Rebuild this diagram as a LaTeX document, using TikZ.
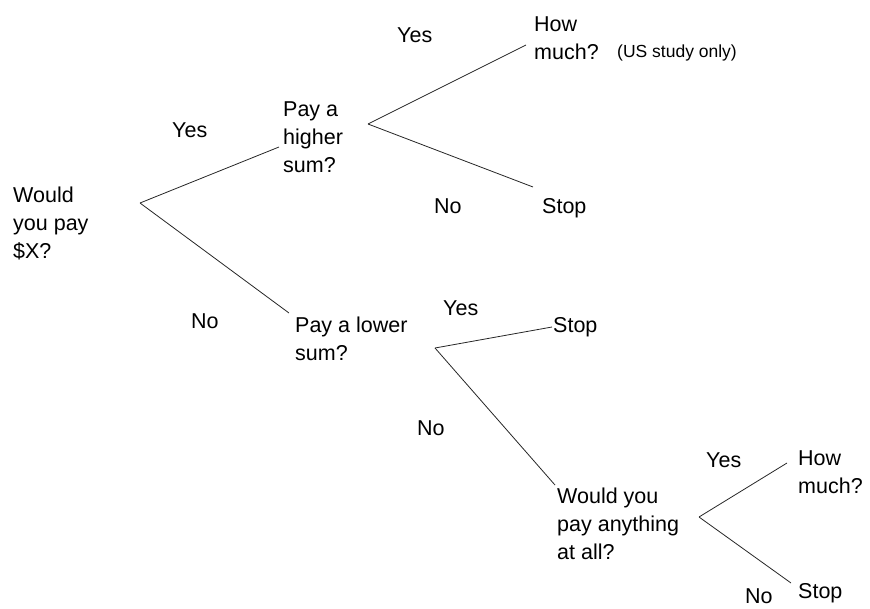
\documentclass[tikz,border=0pt]{standalone}
\usepackage{fontspec}
\setmainfont{Liberation Sans}
\usetikzlibrary{calc}
\tikzstyle{qstyle}=[anchor=base west,inner sep=0pt,align=left,font=\fontsize{21.5}{28}\selectfont]
\tikzstyle{ansstyle}=[anchor=base west,inner sep=0pt,font=\fontsize{21.5}{28}\selectfont]
\tikzstyle{notestyle}=[anchor=base west,inner sep=0pt,font=\fontsize{17.5}{20}\selectfont]
\tikzstyle{branchstyle}=[draw=black!85,line width=0.8pt]

\begin{document}
\begin{tikzpicture}[x=1pt,y=-1pt]

      % keep the page the size of the original picture
      \useasboundingbox (0,0) rectangle (870,608);

      % Questions, placed at the baseline of their last line
      \node[qstyle] at (13,258) (q1) {Would\\you pay\\\$X?};
      \node[qstyle] at (283,172) (q2) {Pay a\\higher\\sum?};
      \node[qstyle] at (295,360) (q3) {Pay a lower\\sum?};
      \node[qstyle] at (557,559) (q4) {Would you\\pay anything\\at all?};

      % Outcomes
      \node[qstyle] at (534,59) (o1) {How\\much?};
      \node[notestyle] at (617,57) (n1) {(US study only)};
      \node[ansstyle] at (542,213) (o2) {Stop};
      \node[ansstyle] at (553,332) (o3) {Stop};
      \node[qstyle] at (798,493) (o4) {How\\much?};
      \node[ansstyle] at (798,598) (o5) {Stop};

      % branch points and line ends
      \coordinate (s1) at (140,203);
      \coordinate (s2) at (368,124);
      \coordinate (s3) at (435,348);
      \coordinate (s4) at (699,517);
      \coordinate (t2) at (279,147);
      \coordinate (t3) at (289,313);
      \coordinate (t4) at (555,485);
      \coordinate (u1) at (526,45);
      \coordinate (u2) at (533,187);
      \coordinate (u3) at (552,327);
      \coordinate (u4) at (787,463);
      \coordinate (u5) at (791,583);

      % Draw all branches
      \draw[branchstyle] (s1) -- (t2);
      \draw[branchstyle] (s1) -- (t3);
      \draw[branchstyle] (s2) -- (u1);
      \draw[branchstyle] (s2) -- (u2);
      \draw[branchstyle] (s3) -- (u3);
      \draw[branchstyle] (s3) -- (t4);
      \draw[branchstyle] (s4) -- (u4);
      \draw[branchstyle] (s4) -- (u5);

      % Insert labels
      \node[ansstyle] at (172,137) (y1) {Yes};
      \node[ansstyle] at (191,328) (m1) {No};
      \node[ansstyle] at (397,42) (y2) {Yes};
      \node[ansstyle] at (434,213) (m2) {No};
      \node[ansstyle] at (443,315) (y3) {Yes};
      \node[ansstyle] at (417,435) (m3) {No};
      \node[ansstyle] at (706,467) (y4) {Yes};
      \node[ansstyle] at (745,603) (m4) {No};

\end{tikzpicture}
\end{document}
